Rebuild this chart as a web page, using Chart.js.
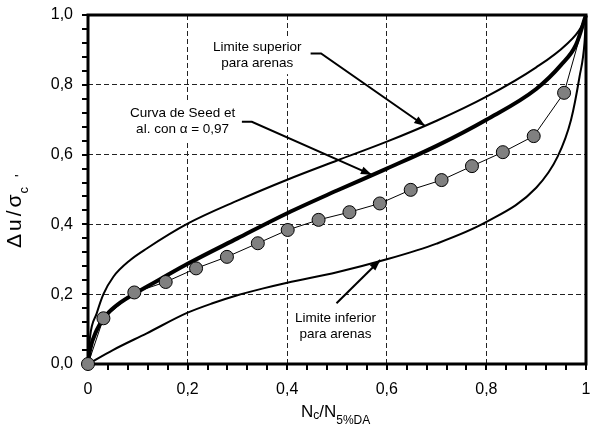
<!DOCTYPE html>
<html>
<head>
<meta charset="utf-8">
<script src="https://cdn.jsdelivr.net/npm/chart.js@4.4.1/dist/chart.umd.min.js"></script>
<style>
  html, body { margin: 0; padding: 0; background: #fff; }
</style>
</head>
<body>
<canvas id="grafico" width="596" height="432"></canvas>
<script>
// Limite superior para arenas
const supX = [0, 0.004, 0.0175, 0.031, 0.051, 0.085, 0.118, 0.2, 0.3, 0.4, 0.5, 0.6, 0.7, 0.8, 0.9, 0.96, 0.99, 1];
const supY = [0, 0.077, 0.145, 0.2, 0.25, 0.298, 0.331, 0.402, 0.468, 0.528, 0.583, 0.637, 0.697, 0.766, 0.85, 0.915, 0.965, 1];

// Curva de Seed et al. (alfa = 0,97)
const seedX = [0, 0.004, 0.0175, 0.038, 0.064, 0.1, 0.15, 0.2, 0.3, 0.4, 0.5, 0.6, 0.7, 0.8, 0.9, 0.95, 0.98, 1];
const seedY = [0, 0.04, 0.097, 0.142, 0.175, 0.207, 0.247, 0.287, 0.36, 0.432, 0.497, 0.56, 0.625, 0.7, 0.788, 0.857, 0.915, 1];

// Limite inferior para arenas
const infX = [0, 0.05, 0.118, 0.2, 0.25, 0.3, 0.35, 0.4, 0.5, 0.6, 0.7, 0.8, 0.9, 0.943, 0.97, 0.987, 0.997, 1];
const infY = [0, 0.04, 0.088, 0.147, 0.174, 0.197, 0.216, 0.233, 0.263, 0.3, 0.345, 0.407, 0.505, 0.594, 0.7, 0.823, 0.92, 1];

// Puntos del ensayo (el ultimo cierra la linea en 1,0)
const ensX = [0, 0.031, 0.093, 0.156, 0.217, 0.279, 0.341, 0.401, 0.463, 0.525, 0.586, 0.648, 0.71, 0.771, 0.833, 0.895, 0.956, 1];
const ensY = [0, 0.131, 0.205, 0.235, 0.274, 0.307, 0.346, 0.384, 0.413, 0.435, 0.46, 0.499, 0.527, 0.567, 0.607, 0.653, 0.777, 1];

// Textos y flechas (coordenadas de datos)
const notas = [
  { lineas: ["Limite superior", "para arenas"], x: 0.34, y: 0.885 },
  { lineas: ["Curva de Seed et", "al. con \u03b1 = 0,97"], x: 0.19, y: 0.696 },
  { lineas: ["Limite inferior", "para arenas"], x: 0.497, y: 0.108 },
];
const flechas = [
  [[0.447, 0.89], [0.468, 0.89], [0.677, 0.682]],
  [[0.309, 0.694], [0.329, 0.694], [0.57, 0.542]],
  [[0.499, 0.174], [0.587, 0.298]],
];

const pts = (xs, ys) => xs.map((x, i) => ({ x: x, y: ys[i] }));
const esMayor = (v) => Math.round(v * 100) % 20 === 0;
const coma = (v) => v.toFixed(1).replace(".", ",");
const FUENTE = '"Liberation Sans", Arial, sans-serif';

function textoCompuesto(ctx, partes, x, y) {
  let cx = x;
  partes.forEach((p) => {
    ctx.font = p.s + "px " + FUENTE;
    ctx.fillText(p.t, cx, y + (p.dy || 0));
    cx += ctx.measureText(p.t).width + (p.gap || 0);
  });
}

const marco = {
  id: "marco",
  beforeDatasetsDraw(chart) {
    const { ctx, chartArea: a, scales } = chart;
    const sx = scales.x, sy = scales.y;
    ctx.save();
    ctx.strokeStyle = "#000";

    // marcas de los ejes (hacia afuera, cada 0,04)
    ctx.lineWidth = 2;
    ctx.beginPath();
    sx.ticks.forEach((t) => {
      const px = Math.round(sx.getPixelForValue(t.value));
      ctx.moveTo(px, a.bottom);
      ctx.lineTo(px, a.bottom + 6);
    });
    sy.ticks.forEach((t) => {
      const py = Math.round(sy.getPixelForValue(t.value));
      ctx.moveTo(a.left, py);
      ctx.lineTo(a.left - 6, py);
    });
    ctx.stroke();

    ctx.lineWidth = 3;
    ctx.strokeRect(a.left, a.top, a.right - a.left, a.bottom - a.top);

    // textos con fondo blanco
    ctx.font = "13.5px " + FUENTE;
    ctx.textAlign = "center";
    ctx.textBaseline = "middle";
    notas.forEach((n) => {
      const cx = sx.getPixelForValue(n.x);
      const cy = sy.getPixelForValue(n.y);
      const w = Math.max(...n.lineas.map((l) => ctx.measureText(l).width));
      ctx.fillStyle = "#fff";
      ctx.fillRect(cx - w / 2 - 4, cy - 19, w + 8, 38);
      ctx.fillStyle = "#000";
      n.lineas.forEach((l, i) => ctx.fillText(l, cx, cy + (i - 0.5) * 16));
    });
    ctx.restore();
  },
  afterDatasetsDraw(chart) {
    const { ctx, scales } = chart;
    const sx = scales.x, sy = scales.y;
    ctx.save();
    ctx.strokeStyle = "#000";
    ctx.fillStyle = "#000";
    ctx.lineWidth = 2;
    flechas.forEach((f) => {
      const p = f.map(([x, y]) => [sx.getPixelForValue(x), sy.getPixelForValue(y)]);
      ctx.beginPath();
      p.forEach(([x, y], i) => (i ? ctx.lineTo(x, y) : ctx.moveTo(x, y)));
      ctx.stroke();
      const [x1, y1] = p[p.length - 2];
      const [x2, y2] = p[p.length - 1];
      const ang = Math.atan2(y2 - y1, x2 - x1);
      ctx.beginPath();
      ctx.moveTo(x2, y2);
      ctx.lineTo(x2 - 11 * Math.cos(ang) + 4 * Math.sin(ang), y2 - 11 * Math.sin(ang) - 4 * Math.cos(ang));
      ctx.lineTo(x2 - 11 * Math.cos(ang) - 4 * Math.sin(ang), y2 - 11 * Math.sin(ang) + 4 * Math.cos(ang));
      ctx.closePath();
      ctx.fill();
    });

    // titulos de ejes
    ctx.textAlign = "left";
    ctx.textBaseline = "alphabetic";
    textoCompuesto(ctx, [
      { t: "N", s: 17 },
      { t: "c", s: 12, dy: 2 },
      { t: "/N", s: 17 },
      { t: "5%DA", s: 12, dy: 7 },
    ], 301, 417);

    ctx.translate(21, 248);
    ctx.rotate(-Math.PI / 2);
    textoCompuesto(ctx, [
      { t: "\u0394", s: 21, gap: 3 },
      { t: "u", s: 21, gap: 3 },
      { t: "/", s: 21, gap: 3 },
      { t: "\u03c3", s: 21, gap: 1 },
      { t: "c", s: 13, dy: 6.5, gap: 10 },
      { t: "'", s: 14, dy: 4 },
    ], 0, 0);
    ctx.restore();
  },
};

const ejeBase = {
  type: "linear",
  min: 0,
  max: 1,
  border: { display: false, dash: [5, 3] },
  grid: {
    color: (c) => (c.tick && esMayor(c.tick.value) ? "#222" : "rgba(0,0,0,0)"),
    lineWidth: 1,
    drawTicks: false,
  },
};

new Chart(document.getElementById("grafico"), {
  type: "scatter",
  data: {
    datasets: [
      {
        data: pts(ensX, ensY),
        showLine: true,
        borderColor: "#000",
        borderWidth: 1,
        pointRadius: ensX.map((x) => (x === 1 ? 0 : 6.5)),
        pointBackgroundColor: "#808080",
        pointBorderColor: "#000",
        pointBorderWidth: 1,
        clip: false,
        order: 0,
      },
      {
        data: pts(seedX, seedY),
        showLine: true,
        borderColor: "#000",
        borderWidth: 4,
        pointRadius: 0,
        cubicInterpolationMode: "monotone",
        clip: false,
        order: 1,
      },
      {
        data: pts(supX, supY),
        showLine: true,
        borderColor: "#000",
        borderWidth: 2,
        pointRadius: 0,
        cubicInterpolationMode: "monotone",
        clip: false,
        order: 2,
      },
      {
        data: pts(infX, infY),
        showLine: true,
        borderColor: "#000",
        borderWidth: 2,
        pointRadius: 0,
        cubicInterpolationMode: "monotone",
        clip: false,
        order: 3,
      },
    ],
  },
  options: {
    responsive: false,
    animation: false,
    devicePixelRatio: 1,
    layout: { padding: { top: 15, right: 10, left: 0, bottom: 0 } },
    plugins: { legend: { display: false }, tooltip: { enabled: false } },
    scales: {
      x: {
        ...ejeBase,
        afterFit: (s) => {
          s.height = 68;
          s.paddingLeft = 0;
          s.paddingRight = 0;
        },
        ticks: {
          stepSize: 0.04,
          maxTicksLimit: 40,
          autoSkip: false,
          maxRotation: 0,
          padding: 16,
          color: "#000",
          font: { family: FUENTE, size: 16 },
          callback: (v) => (!esMayor(v) ? "" : v === 0 || v === 1 ? String(v) : coma(v)),
        },
      },
      y: {
        ...ejeBase,
        afterFit: (s) => {
          s.width = 88;
          s.paddingTop = 0;
          s.paddingBottom = 0;
        },
        ticks: {
          stepSize: 0.04,
          maxTicksLimit: 40,
          autoSkip: false,
          padding: 15,
          color: "#000",
          font: { family: FUENTE, size: 16 },
          callback: (v) => (esMayor(v) ? coma(v) : ""),
        },
      },
    },
  },
  plugins: [marco],
});
</script>
</body>
</html>
